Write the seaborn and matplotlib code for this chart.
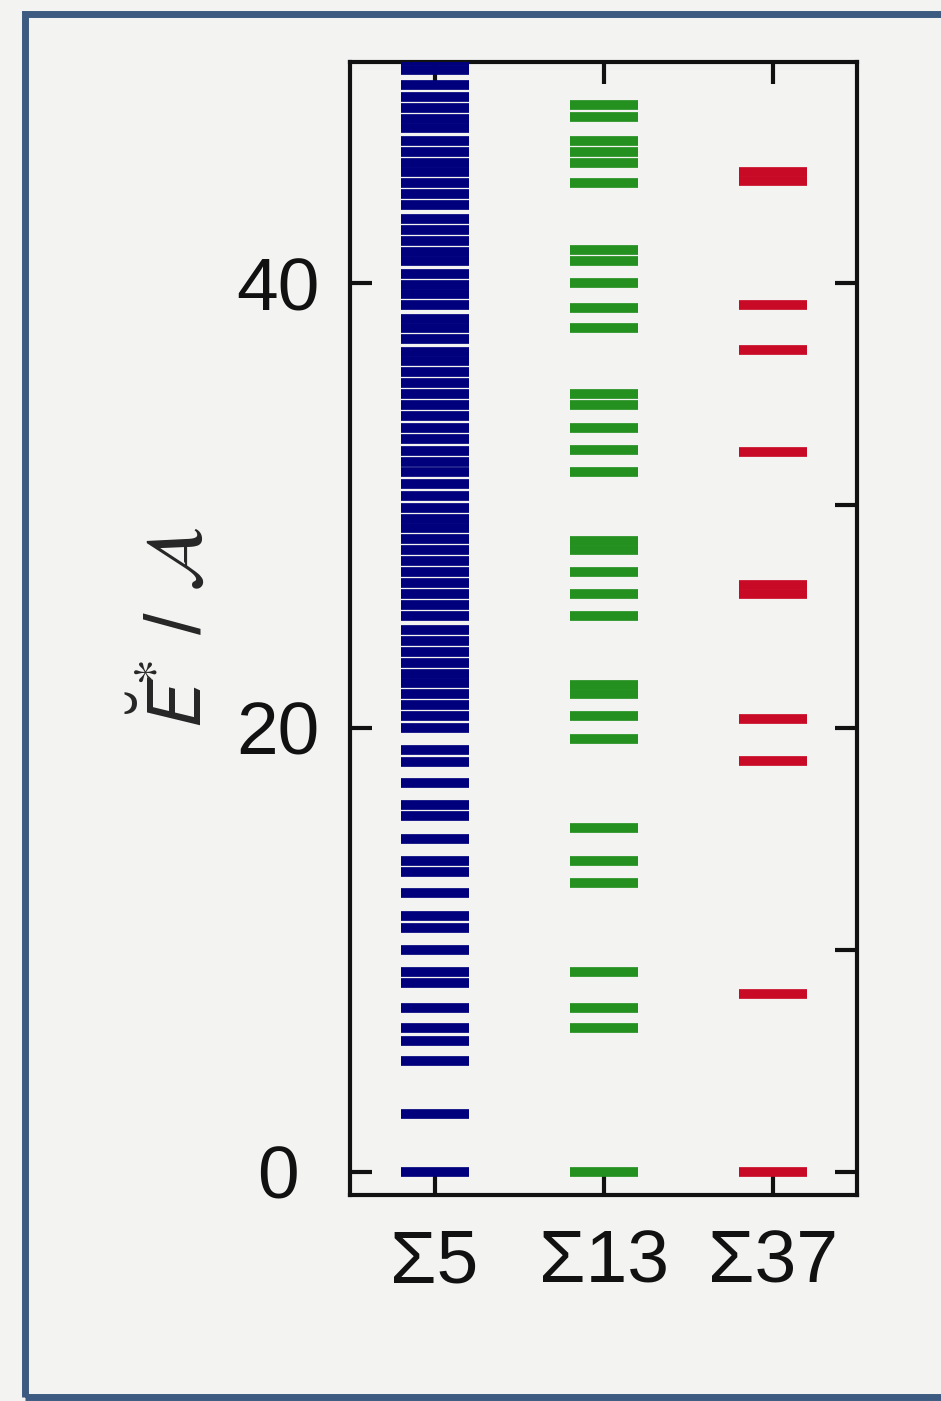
import matplotlib
matplotlib.use("Agg")
import matplotlib.pyplot as plt
import pandas as pd
import seaborn as sns
from matplotlib.patches import Rectangle
from matplotlib.ticker import MultipleLocator

# ---- data ----
categories = ["Σ5", "Σ13", "Σ37"]

sigma5_levels = [0.0, 2.6, 5.0, 5.9, 6.5, 7.4, 8.5, 9.0, 10.0, 11.0, 11.5, 12.55,
                 13.5, 14.0, 15.0, 16.0, 16.5, 17.5, 18.45, 19.0,
                 20.0, 20.5, 21.0, 21.5, 22.0, 22.4, 22.9, 23.4, 23.9, 24.4,
                 25.0, 25.5, 26.0, 26.5, 27.0, 27.5, 28.0, 28.5, 29.0, 29.4,
                 29.9, 30.4, 30.95, 31.5, 31.95, 32.45, 33.0, 33.5, 34.0, 34.5,
                 35.0, 35.5, 36.0, 36.5, 36.9, 37.5, 38.0, 38.4, 39.0, 39.5,
                 39.9, 40.4, 41.0, 41.4, 41.9, 42.4, 42.9, 43.5, 44.0, 44.5,
                 45.0, 45.4, 45.9, 46.4, 47.0, 47.4, 47.9, 48.4, 48.9, 49.6, 50.0]

sigma13_levels = [0.0, 6.5, 7.4, 9.0, 13.0, 14.0, 15.5, 19.5, 20.5, 21.5, 21.9,
                  25.0, 26.0, 27.0, 28.0, 28.4, 31.5, 32.5, 33.5, 34.5, 35.0,
                  38.0, 38.9, 40.0, 41.0, 41.5, 44.5, 45.4, 45.9, 46.4, 47.5, 48.0]

sigma37_levels = [0.0, 8.0, 18.5, 20.4, 26.0, 26.4, 32.4, 37.0, 39.0, 44.6, 45.0]

yticks_major = [0, 20, 40]
colors = ["#00007c", "#23901f", "#c80a26"]

# ---- build table ----
levels = [sigma5_levels, sigma13_levels, sigma37_levels]
df = pd.DataFrame({
    "boundary": [c for c, lv in zip(categories, levels) for _ in lv],
    "E": [v for lv in levels for v in lv],
})

sns.set_theme(style="ticks")
plt.rcParams["font.family"] = ["Liberation Sans", "DejaVu Sans"]
plt.rcParams["mathtext.fontset"] = "stixsans"

bg = "#f3f3f2"
fig = plt.figure(figsize=(9.41, 14.01), dpi=100, facecolor=bg)
ax = fig.add_axes([0.372, 0.147, 0.539, 0.8087])
ax.set_facecolor(bg)

sns.scatterplot(data=df, x="boundary", y="E", hue="boundary",
                palette=dict(zip(categories, colors)), marker="_",
                s=2401, linewidth=7, legend=False, ax=ax, zorder=3)

ax.set_xlim(-0.5, 2.5)
ax.set_ylim(-1.04, 49.95)
ax.set_xticks(range(len(categories)))
ax.set_xticklabels(categories)
ax.set_yticks(yticks_major)
ax.yaxis.set_minor_locator(MultipleLocator(10))

ax.tick_params(axis="both", which="major", direction="in", length=16, width=3,
               colors="#111111", labelsize=54, top=True, bottom=True,
               left=True, right=True)
ax.tick_params(axis="y", which="major", pad=52)
ax.tick_params(axis="x", which="major", pad=24)
ax.tick_params(axis="y", which="minor", direction="in", length=16, width=3,
               left=False, right=True, color="#111111")
for lab in ax.get_yticklabels():
    lab.set_horizontalalignment("center")

for sp in ax.spines.values():
    sp.set_linewidth(3)
    sp.set_color("#111111")

ax.set_xlabel("")
ax.set_ylabel(r"$\breve{E}^{*}$ / $\mathcal{A}$", fontsize=56, labelpad=14)

# slide frame
fig.patches.append(Rectangle((0.0266, 0.003), 1.2, 0.987, transform=fig.transFigure,
                             fill=False, edgecolor="#3d5a80", linewidth=5, zorder=0))

fig.savefig("out.png", dpi=100, facecolor=bg)
